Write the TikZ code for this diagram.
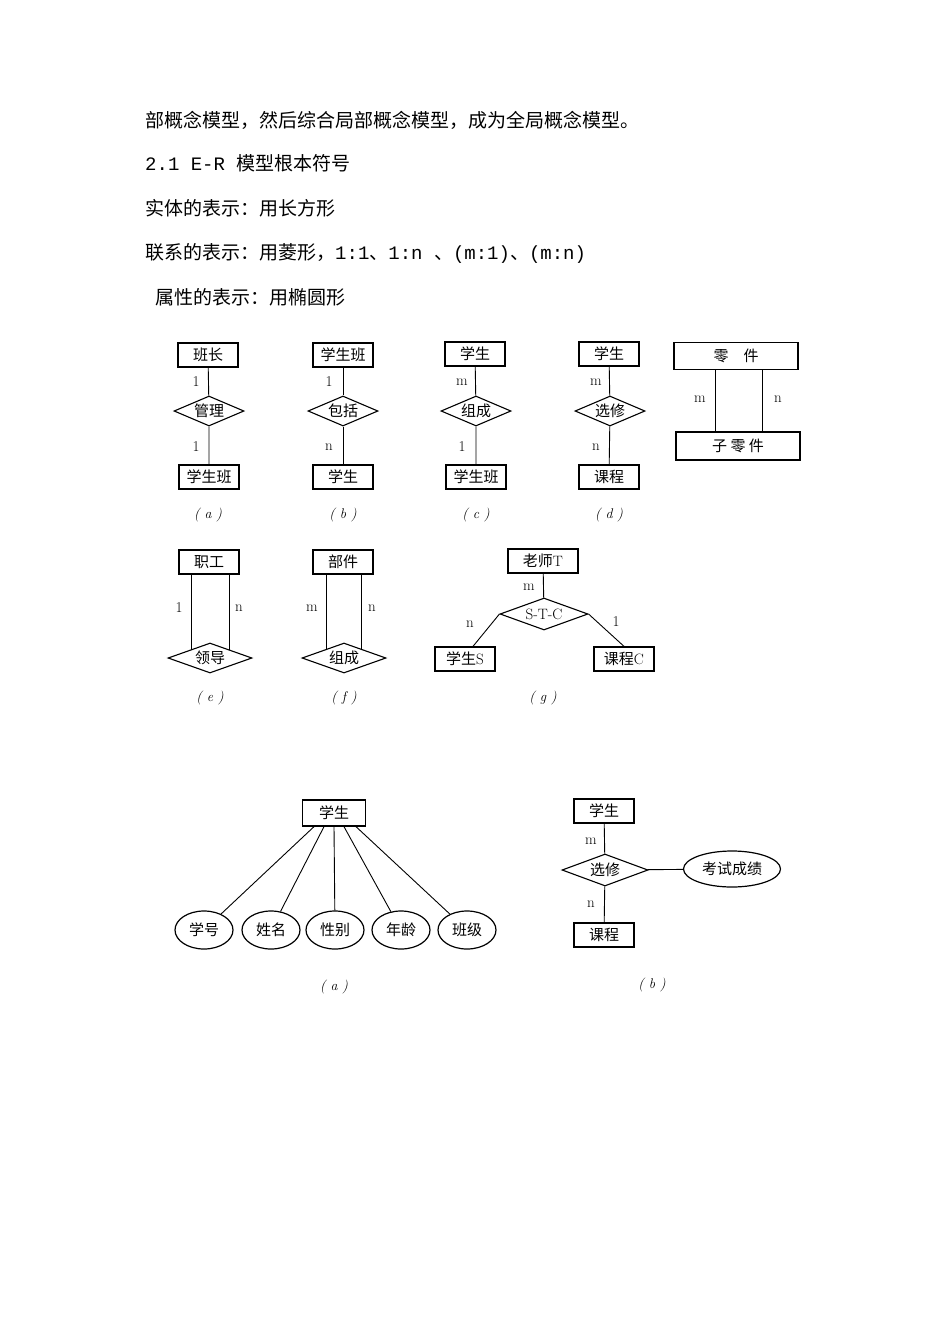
\documentclass[tikz,border=0pt]{standalone}
\usepackage{fontspec}
\setmonofont{Liberation Mono}
\newfontfamily\cjk{Noto Sans CJK SC}
\usetikzlibrary{shapes.geometric}
\tikzset{
 ent/.style={draw,line width=1.3pt,minimum width=60pt,minimum height=24pt,inner sep=1pt,font=\cjk\fontsize{15}{16}\selectfont},
 rel/.style={draw,diamond,aspect=2.5,line width=1.1pt,minimum width=70pt,minimum height=30pt,inner sep=0pt,font=\cjk\fontsize{15}{16}\selectfont},
 att/.style={draw,ellipse,line width=1.2pt,minimum width=58pt,minimum height=38pt,inner sep=0pt,font=\cjk\fontsize{15}{16}\selectfont},
 lab/.style={font=\fontsize{15}{16}\selectfont},
 capt/.style={font=\itshape\fontsize{14}{15}\selectfont},
 txt/.style={anchor=west,inner sep=0pt,font=\cjk\fontsize{19}{22}\selectfont},
 ln/.style={line width=0.9pt}
}
\begin{document}
\begin{tikzpicture}[x=1pt,y=-1pt]
\useasboundingbox[fill=white] (0,0) rectangle (950,1344);
\node[txt] (t1) at (145,120) {部概念模型，然后综合局部概念模型，成为全局概念模型。};
\node[txt] (t2) at (145,163) {\ttfamily 2.1 E-R \cjk 模型根本符号};
\node[txt] (t3) at (145,208) {实体的表示：用长方形};
\node[txt] (t4) at (145,253) {联系的表示：用菱形，\ttfamily 1:1\cjk 、\ttfamily 1:n \cjk 、\ttfamily (m:1)\cjk 、\ttfamily (m:n)};
\node[txt] (t5) at (155,297) {属性的表示：用椭圆形};
% (a)
\node[ent] (a1) at (208,355) {班长};
\node[rel] (a2) at (209,411) {管理};
\node[ent] (a3) at (209,477) {学生班};
\draw[ln] (a1) -- (a2) -- (a3);
\node[lab] (la1) at (196,382) {1};
\node[lab] (la2) at (196,447) {1};
\node[capt] (ca) at (208,515) {( a )};
% (b)
\node[ent] (b1) at (343,355) {学生班};
\node[rel] (b2) at (343,411) {包括};
\node[ent] (b3) at (343,477) {学生};
\draw[ln] (b1) -- (b2) -- (b3);
\node[lab] (lb1) at (329,382) {1};
\node[lab] (lb2) at (329,447) {n};
\node[capt] (cb) at (343,515) {( b )};
% (c)
\node[ent] (c1) at (475,354) {学生};
\node[rel] (c2) at (476,411) {组成};
\node[ent] (c3) at (476,477) {学生班};
\draw[ln] (c1) -- (c2) -- (c3);
\node[lab] (lc1) at (462,382) {m};
\node[lab] (lc2) at (462,447) {1};
\node[capt] (cc) at (476,515) {( c )};
% (d)
\node[ent] (d1) at (609,354) {学生};
\node[rel] (d2) at (610,411) {选修};
\node[ent] (d3) at (609,477) {课程};
\draw[ln] (d1) -- (d2) -- (d3);
\node[lab] (ld1) at (596,382) {m};
\node[lab] (ld2) at (596,447) {n};
\node[capt] (cd) at (609,515) {( d )};
% parts
\node[ent,minimum width=124pt,minimum height=27pt] (p1) at (736,356) {零\quad 件};
\node[ent,minimum width=124pt,minimum height=28pt] (p2) at (738,446) {子\ 零\ 件};
\draw[ln] (p1.south) ++(-21,0) coordinate (pa) -- (pa |- p2.north);
\draw[ln] (p1.south) ++(26,0) coordinate (pb) -- (pb |- p2.north);
\node[lab] (lp1) at (700,399) {m};
\node[lab] (lp2) at (778,399) {n};
% (e)
\node[ent] (e1) at (209,562) {职工};
\node[rel,minimum width=84pt] (e2) at (210,658) {领导};
\draw[ln] (e1.south) ++(-18,0) coordinate (ea) -- (ea |- e2.north west);
\draw[ln] (e1.south) ++(20,0) coordinate (eb) -- (eb |- e2.north west);
\node[lab] (le1) at (179,608) {1};
\node[lab] (le2) at (239,608) {n};
\node[capt] (ce) at (210,698) {( e )};
% (f)
\node[ent] (f1) at (343,562) {部件};
\node[rel,minimum width=84pt] (f2) at (344,658) {组成};
\draw[ln] (f1.south) ++(-17,0) coordinate (fa) -- (fa |- f2.north west);
\draw[ln] (f1.south) ++(18,0) coordinate (fb) -- (fb |- f2.north west);
\node[lab] (lf1) at (312,608) {m};
\node[lab] (lf2) at (372,608) {n};
\node[capt] (cf) at (344,698) {( f )};
% (g)
\node[ent,minimum width=70pt] (g1) at (543,561) {老师\rmfamily T};
\node[rel,minimum width=88pt,minimum height=32pt,font=\fontsize{15}{16}\selectfont] (g2) at (544,614) {S-T-C};
\node[ent] (g3) at (465,659) {学生\rmfamily S};
\node[ent] (g4) at (624,659) {课程\rmfamily C};
\draw[ln] (g1) -- (g2);
\draw[ln] (g2.west) -- ([xshift=8pt]g3.north);
\draw[ln] (g2.east) -- (g4.north);
\node[lab] (lg1) at (529,587) {m};
\node[lab] (lg2) at (470,624) {n};
\node[lab] (lg3) at (616,622) {1};
\node[capt] (cg) at (543,698) {( g )};
% bottom (a)
\node[ent,minimum width=63pt,minimum height=26pt] (s) at (334,813) {学生};
\node[att] (h1) at (204,930) {学号};
\node[att] (h2) at (271,930) {姓名};
\node[att] (h3) at (335,930) {性别};
\node[att] (h4) at (401,930) {年龄};
\node[att] (h5) at (467,930) {班级};
\draw[ln] (s.south) ++(-20,0) coordinate (s1) -- (h1);
\draw[ln] (s.south) ++(-10,0) coordinate (s2) -- (h2);
\draw[ln] (s.south) ++(0,0) coordinate (s3) -- (h3);
\draw[ln] (s.south) ++(10,0) coordinate (s4) -- (h4);
\draw[ln] (s.south) ++(22,0) coordinate (s5) -- (h5);
\node[capt] (cba) at (334,987) {( a )};
% bottom (b)
\node[ent] (u1) at (604,811) {学生};
\node[rel,minimum width=86pt,minimum height=32pt] (u2) at (605,870) {选修};
\node[att,minimum width=97pt,minimum height=36pt] (u3) at (732,869) {考试成绩};
\node[ent] (u4) at (604,935) {课程};
\draw[ln] (u1) -- (u2) -- (u4);
\draw[ln] (u2) -- (u3);
\node[lab] (lu1) at (591,841) {m};
\node[lab] (lu2) at (591,904) {n};
\node[capt] (cbb) at (652,985) {( b )};
\end{tikzpicture}
\end{document}
